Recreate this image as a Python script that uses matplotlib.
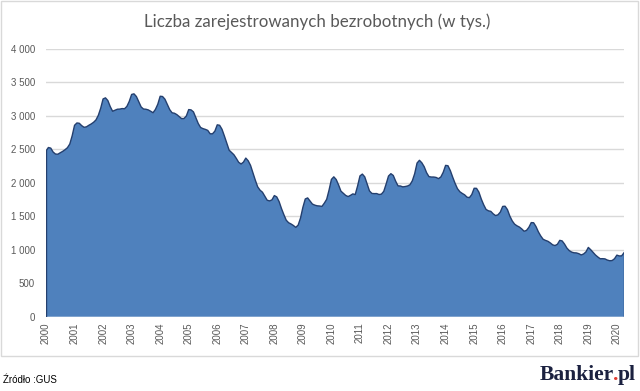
import matplotlib
matplotlib.use("Agg")
import matplotlib.pyplot as plt
from matplotlib.patches import Rectangle
import numpy as np

# Registered unemployed (thousands), monthly Jan 2000 - Apr 2020
y2000 = [2475, 2528, 2519, 2460, 2430, 2428, 2450, 2470, 2495, 2525, 2580, 2703]
y2001 = [2860, 2895, 2890, 2855, 2830, 2837, 2860, 2880, 2905, 2940, 3009, 3116]
y2002 = [3254, 3270, 3230, 3140, 3070, 3085, 3100, 3102, 3110, 3107, 3142, 3217]
y2003 = [3321, 3330, 3290, 3210, 3134, 3103, 3100, 3090, 3070, 3048, 3097, 3175]
y2004 = [3294, 3290, 3250, 3172, 3095, 3047, 3040, 3020, 2990, 2960, 2961, 2999]
y2005 = [3095, 3090, 3060, 2974, 2887, 2827, 2810, 2799, 2784, 2733, 2733, 2773]
y2006 = [2867, 2860, 2800, 2700, 2594, 2488, 2455, 2420, 2366, 2307, 2282, 2309]
y2007 = [2370, 2330, 2260, 2150, 2040, 1940, 1890, 1860, 1800, 1740, 1730, 1746]
y2008 = [1810, 1790, 1720, 1616, 1525, 1442, 1404, 1386, 1363, 1335, 1368, 1474]
y2009 = [1634, 1759, 1775, 1730, 1683, 1667, 1657, 1654, 1648, 1696, 1754, 1892]
y2010 = [2052, 2090, 2050, 1969, 1876, 1844, 1812, 1795, 1813, 1835, 1825, 1954]
y2011 = [2104, 2131, 2090, 1986, 1879, 1842, 1839, 1840, 1826, 1831, 1873, 1983]
y2012 = [2102, 2137, 2110, 2025, 1955, 1953, 1940, 1945, 1953, 1971, 2030, 2137]
y2013 = [2296, 2337, 2300, 2241, 2152, 2093, 2087, 2087, 2081, 2063, 2088, 2158]
y2014 = [2261, 2256, 2182, 2083, 1991, 1912, 1867, 1842, 1821, 1786, 1779, 1825]
y2015 = [1919, 1918, 1861, 1758, 1673, 1603, 1582, 1574, 1537, 1511, 1522, 1563]
y2016 = [1648, 1651, 1600, 1504, 1432, 1383, 1358, 1340, 1312, 1277, 1289, 1335]
y2017 = [1406, 1404, 1347, 1268, 1206, 1157, 1140, 1127, 1103, 1074, 1063, 1082]
y2018 = [1141, 1132, 1085, 1025, 987, 965, 955, 953, 942, 923, 937, 968]
y2019 = [1035, 1001, 962, 922, 892, 866, 867, 864, 846, 836, 839, 866]
y2020 = [920, 908, 909, 955]

values = (y2000 + y2001 + y2002 + y2003 + y2004 + y2005 + y2006 + y2007 + y2008
          + y2009 + y2010 + y2011 + y2012 + y2013 + y2014 + y2015 + y2016
          + y2017 + y2018 + y2019 + y2020)
years = [str(y) for y in range(2000, 2021)]
yticks = [0, 500, 1000, 1500, 2000, 2500, 3000, 3500, 4000]
title = "Liczba zarejestrowanych bezrobotnych (w tys.)"

fig = plt.figure(figsize=(6.4, 3.91), dpi=100)
fig.patch.set_facecolor("white")
ax = fig.add_axes([46/640, 1-316.7/391, (624-46)/640, (316.7-49)/391])

x = np.arange(len(values))
ax.fill_between(x, 0, values, facecolor="#4f81bd", edgecolor="none", zorder=2)
ax.plot(x, values, color="#243f6e", lw=1.0, zorder=3)
ax.plot([0, 0], [0, values[0]], color="#243f6e", lw=1.0, zorder=3)
ax.plot([x[-1], x[-1]], [0, values[-1]], color="#243f6e", lw=1.0, zorder=3)

ax.set_xlim(0, len(values) - 1)
ax.set_ylim(0, 4000)
ax.set_yticks(yticks)
ax.set_yticklabels([f"{v:,}".replace(",", " ") for v in yticks])
ax.set_xticks([12 * i for i in range(len(years))])
ax.set_xticklabels(years, rotation=90)
ax.grid(axis="y", color="#d9d9d9", lw=1, zorder=0)
ax.set_axisbelow(True)
for s in ax.spines.values():
    s.set_visible(False)
ax.tick_params(axis="both", length=0, labelsize=7, labelcolor="#595959")
ax.tick_params(axis="y", pad=8)
ax.tick_params(axis="x", pad=4)
for lab in ax.get_xticklabels() + ax.get_yticklabels():
    lab.set_fontfamily("Liberation Sans")

fig.text(0.496, 1-21.5/391, title, ha="center", va="center", fontsize=12.2,
         color="#595959", fontfamily="Lato")

fig.patches.append(Rectangle((0.5/640, 1-356/391), 637/640, 355.5/391,
                             transform=fig.transFigure, fill=False,
                             edgecolor="#d9d9d9", lw=1))

fig.text(3/640, 1-380/391, "Źródło :GUS", ha="left", va="center", fontsize=7,
         color="#000000", fontfamily="Liberation Sans")

# Logo: "Bankier" + red "." + "pl", laid out right to left
renderer = fig.canvas.get_renderer()
logo_kw = dict(fontsize=15.5, fontweight="bold", fontfamily="Liberation Serif",
               va="baseline", ha="right")
base_y = 1 - 380/391
xr = 636/640
for part, col in [("pl", "#1b2140"), (".", "#e03a2f"), ("Bankier", "#1b2140")]:
    t = fig.text(xr, base_y, part, color=col, **logo_kw)
    bb = t.get_window_extent(renderer)
    xr -= (bb.width - 0.5) / fig.bbox.width

fig.savefig("out.png", dpi=100)
